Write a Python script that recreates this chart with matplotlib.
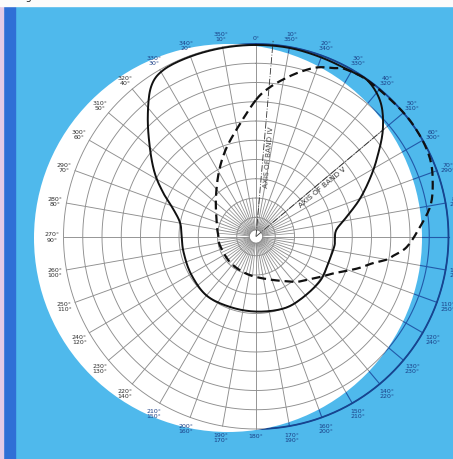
import matplotlib
matplotlib.use("Agg")
import matplotlib.pyplot as plt
import numpy as np
from matplotlib.patches import Circle, Rectangle

# horizontal radiation pattern, bearing in degrees clockwise from 0 deg (top)
solid_deg = [0, 10, 20, 30, 36, 43, 50, 57, 63, 70, 77, 85, 92, 97, 110, 125, 145,
             160, 180, 200, 220, 240, 258, 270, 280, 288, 295, 302, 310, 318, 325,
             331, 340, 350]
solid_r = [0.995, 0.995, 0.99, 0.99, 0.995, 0.95, 0.86, 0.75, 0.665, 0.575, 0.49,
           0.42, 0.41, 0.41, 0.40, 0.405, 0.40, 0.40, 0.39, 0.39, 0.40, 0.39,
           0.385, 0.386, 0.40, 0.45, 0.53, 0.62, 0.72, 0.84, 0.95, 0.99, 0.995, 0.995]

dash_deg = [0, 5, 10, 15, 20, 25, 28, 36, 49, 58, 66, 73, 80, 87, 94, 98, 100, 103,
            107, 111, 115, 120, 126, 136, 143, 166, 194, 225, 256, 270, 285, 313,
            330, 341, 351]
dash_r = [0.71, 0.775, 0.83, 0.885, 0.935, 0.965, 0.985, 0.997, 1.0, 1.0, 0.99,
          0.96, 0.92, 0.85, 0.785, 0.72, 0.69, 0.62, 0.56, 0.50, 0.45, 0.41, 0.37,
          0.325, 0.293, 0.228, 0.20, 0.19, 0.193, 0.195, 0.21, 0.285, 0.386, 0.48, 0.58]

ring_r = [0.035, 0.1, 0.2, 0.3, 0.4, 0.5, 0.6, 0.7, 0.8, 0.9, 1.0]
spoke_deg = list(range(0, 360, 10))
fine_deg = list(range(5, 360, 10))
band4_deg = 5
band5_deg = 50

SKY = "#4fb9ec"
STRIP = "#2f6fd6"
NAVY = "#2259a8"
GREY = "#8e8e8e"

W, H = 453, 460
cx, cy, R = 256, 237.5, 192.5        # chart centre / radius in pixels
dx0, dy0, dr = 228, 239, 194         # white card


def smooth_closed(deg, r, n=10):
    # Catmull-Rom through the read points, only for drawing a smooth outline
    t = np.deg2rad(deg)
    P = np.column_stack([np.sin(t) * r, np.cos(t) * r])
    N = len(P)
    s = np.linspace(0, 1, n, endpoint=False)[:, None]
    segs = []
    for i in range(N):
        p0, p1, p2, p3 = P[i - 1], P[i], P[(i + 1) % N], P[(i + 2) % N]
        segs.append(0.5 * ((2 * p1) + (-p0 + p2) * s
                           + (2 * p0 - 5 * p1 + 4 * p2 - p3) * s ** 2
                           + (-p0 + 3 * p1 - 3 * p2 + p3) * s ** 3))
    xy = np.vstack(segs + [P[:1]])
    return np.arctan2(xy[:, 0], xy[:, 1]), np.hypot(xy[:, 0], xy[:, 1])


fig = plt.figure(figsize=(W / 100, H / 100), dpi=100)
fig.patch.set_facecolor(SKY)
fig.add_artist(Rectangle((3 / W, 0), 12 / W, 1, transform=fig.transFigure,
                         color=STRIP, zorder=-2))
fig.add_artist(Rectangle((0, 0), 3 / W, 1, transform=fig.transFigure,
                         color="#e4cbe6", zorder=-2))
fig.add_artist(Rectangle((0, 1 - 7 / H), 1, 7 / H, transform=fig.transFigure,
                         color="#fbfbfb", zorder=-1))
fig.text(0.04, 1.006, "Fig. 2", fontsize=7, color="#222222", va="center")

ax = fig.add_axes([(cx - R) / W, (H - cy - R) / H, 2 * R / W, 2 * R / H],
                  projection="polar")
ax.set_facecolor("none")
ax.set_theta_zero_location("N")
ax.set_theta_direction(-1)
ax.set_ylim(0, 1)
ax.grid(False)
ax.set_xticks([])
ax.set_yticks([])
ax.spines["polar"].set_visible(False)

card = Circle((dx0 / 100, (H - dy0) / 100), dr / 100, transform=fig.dpi_scale_trans,
              facecolor="white", edgecolor="none", zorder=1.5)
ax.add_artist(card)
card.set_clip_on(False)

th = np.linspace(0, 2 * np.pi, 361)


def grid_lines(color, lw, z, clip):
    arts = []
    for r in ring_r:
        arts += ax.plot(th, np.full_like(th, r), color=color, lw=lw, zorder=z)
    for d in spoke_deg:
        t = np.deg2rad(d)
        arts += ax.plot([t, t], [0.035, 1.0], color=color, lw=lw, zorder=z)
    for d in fine_deg:
        t = np.deg2rad(d)
        arts += ax.plot([t, t], [0.035, 0.2], color=color, lw=lw * 0.8, zorder=z)
    for a in arts:
        a.set_clip_on(False)
        if clip:
            a.set_clip_on(True)
            a.set_clip_path(card)
    return arts


grid_lines(NAVY, 0.8, 1, False)
ax.plot(th, np.ones_like(th), color="#17448f", lw=1.3, zorder=1.2, clip_on=False)
grid_lines(GREY, 0.65, 2, True)

# band axes
ax.plot(np.deg2rad([band4_deg, band4_deg]), [0, 1.02], color="#333333", lw=0.6,
        ls=(0, (8, 2, 1, 2)), zorder=3, clip_on=False)
ax.plot(np.deg2rad([band5_deg, band5_deg]), [0, 0.87], color="#333333", lw=0.6,
        ls=(0, (8, 2, 1, 2)), zorder=3, clip_on=False)
ax.text(np.deg2rad(9), 0.42, "AXIS OF BAND IV", rotation=85, ha="center",
        va="center", fontsize=5.2, color="#444444", zorder=4)
ax.text(np.deg2rad(53), 0.43, "AXIS OF BAND V", rotation=40, ha="center",
        va="center", fontsize=5.2, color="#333333", zorder=4)

# patterns
ts, rs = smooth_closed(solid_deg, solid_r)
ax.plot(ts, rs, color="#111111", lw=1.4, zorder=5, clip_on=False)
td, rd = smooth_closed(dash_deg, dash_r)
ax.plot(td, rd, color="#111111", lw=1.6, ls=(0, (4, 2.2)), zorder=5, clip_on=False)

# bearing labels
for d in spoke_deg:
    if d == 0 or d == 180:
        txt = f"{d}°"
        rr = 1.035
    else:
        txt = f"{d}°\n{360 - d}°"
        rr = 1.06
    px = cx + R * rr * np.sin(np.deg2rad(d))
    py = cy - R * rr * np.cos(np.deg2rad(d))
    inside = np.hypot(px - dx0, py - dy0) < dr - 4
    ax.text(np.deg2rad(d), rr, txt, ha="center", va="center", fontsize=4.5,
            linespacing=1.0, color="#2e2e2e" if inside else "#1b3f86", zorder=6)

fig.savefig("out.png", dpi=100, facecolor=fig.get_facecolor())
